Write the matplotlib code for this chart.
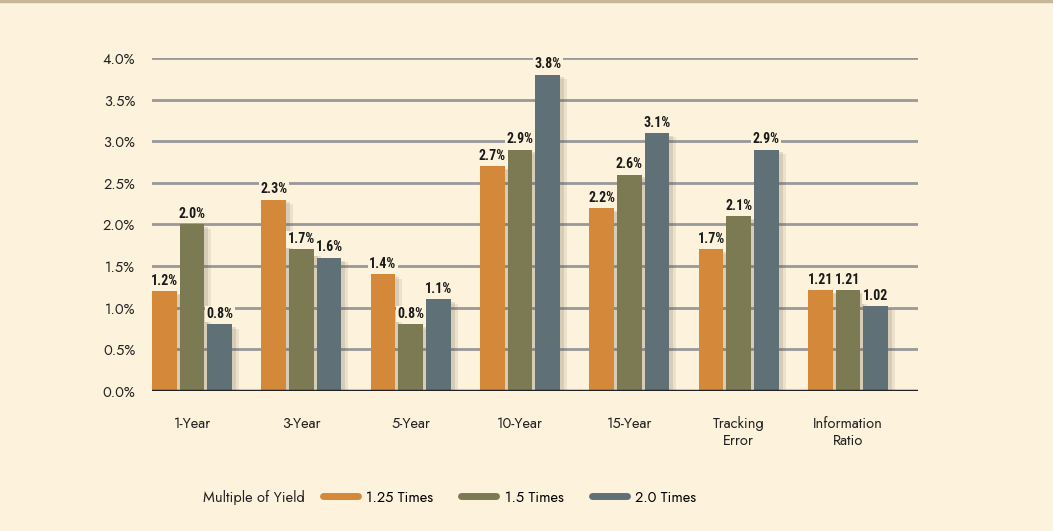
import matplotlib.pyplot as plt
import matplotlib.patheffects as pe
from matplotlib.lines import Line2D
import numpy as np

# Chart data
categories = ["1-Year", "3-Year", "5-Year", "10-Year", "15-Year",
              "Tracking\nError", "Information\nRatio"]
series_names = ["1.25 Times", "1.5 Times", "2.0 Times"]
times_125 = [1.2, 2.3, 1.4, 2.7, 2.2, 1.7, 1.21]
times_150 = [2.0, 1.7, 0.8, 2.9, 2.6, 2.1, 1.21]
times_200 = [0.8, 1.6, 1.1, 3.8, 3.1, 2.9, 1.02]
yticks = [0.0, 0.5, 1.0, 1.5, 2.0, 2.5, 3.0, 3.5, 4.0]

colors = ['#D4883A', '#7B7A52', '#5F7177']
bg = '#FDF3DC'
label_font = ['Roboto Condensed', 'Oswald', 'DejaVu Sans']
text_font = ['Jost', 'Open Sans', 'DejaVu Sans']

fig = plt.figure(figsize=(10.53, 5.31), dpi=100, facecolor=bg)
ax = fig.add_axes([0.1443, 0.2637, 0.7275, 0.6271])
ax.set_facecolor(bg)

# top border line
fig.add_artist(Line2D([0, 1], [0.998, 0.998], transform=fig.transFigure,
                      color='#C8B89A', lw=2.5))

x = np.arange(len(categories))
width = 0.225
offsets = [-0.253, 0, 0.253]
shadow = [pe.SimplePatchShadow(offset=(5, -3), shadow_rgbFace='#5a5040', alpha=0.10),
          pe.SimplePatchShadow(offset=(3, -2), shadow_rgbFace='#5a5040', alpha=0.15),
          pe.Normal()]

for i, (vals, off) in enumerate(zip([times_125, times_150, times_200], offsets)):
    bars = ax.bar(x + off, vals, width, color=colors[i], zorder=3,
                  path_effects=shadow)
    for j, (b, v) in enumerate(zip(bars, vals)):
        txt = f'{v:.2f}' if j == len(categories) - 1 else f'{v:.1f}%'
        ax.text(b.get_x() + b.get_width() / 2, v + 0.04, txt,
                ha='center', va='bottom', fontsize=10, fontweight='bold',
                family=label_font, color='#1a1a1a', zorder=5,
                bbox=dict(facecolor=bg, edgecolor='none', pad=1.0))

ax.set_xlim(-0.366, 6.64)
ax.set_ylim(0, 4.0)
ax.set_yticks(yticks)
ax.set_yticklabels([f'{t:.1f}%' for t in yticks], family=text_font,
                   fontsize=10.5, color='#222222')
ax.set_xticks(x)
ax.set_xticklabels(categories, family=text_font, fontsize=10.5, color='#222222')
ax.tick_params(length=0, axis='y', pad=12)
ax.tick_params(length=0, axis='x', pad=18)

for t in yticks[1:]:
    ax.axhline(t, color='#999999', lw=2, zorder=1)
ax.axhline(0, color='#222222', lw=2.5, zorder=4)
for s in ax.spines.values():
    s.set_visible(False)

# legend
fig.text(0.193, 0.064, 'Multiple of Yield', family=text_font, fontsize=10.5,
         color='#222222', va='center')
handles = [Line2D([0], [0], color=c, lw=5, solid_capstyle='round') for c in colors]
fig.legend(handles, series_names, loc='center left', bbox_to_anchor=(0.294, 0.064),
           ncol=3, frameon=False, handlelength=2.4, columnspacing=1.9,
           handletextpad=0.6, prop={'family': text_font, 'size': 10.5})

plt.savefig('out.png', dpi=100, facecolor=bg)
